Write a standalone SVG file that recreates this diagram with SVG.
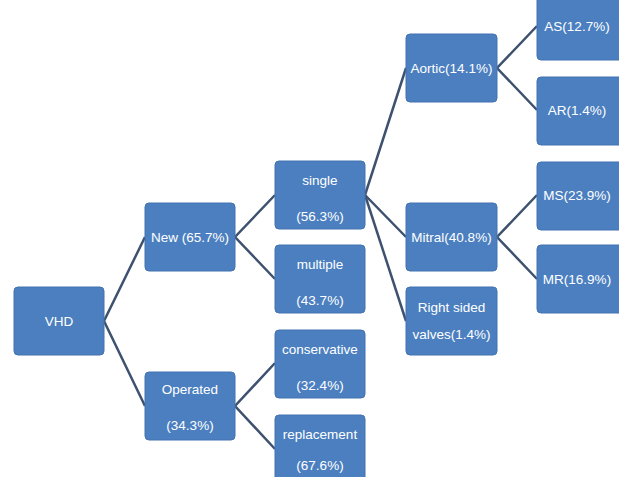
<svg xmlns="http://www.w3.org/2000/svg" width="619" height="477" viewBox="0 0 619 477">
<style>
.box{fill:#4c7fc0;stroke:#4273b0;stroke-width:1}
.t{font-family:"Liberation Sans","Open Sans",sans-serif;font-size:13.5px;fill:#ffffff;text-anchor:middle}
.c{stroke:#3e5270;stroke-width:2.5;fill:none}
</style>
<rect width="619" height="477" fill="#ffffff"/>
<g id="connectors">
<polyline class="c" points="145,237 104,321 145,406"/>
<polyline class="c" points="275,195 235,237 275,279"/>
<polyline class="c" points="275,363 235,406 275,449"/>
<polyline class="c" points="406,68 365,195 406,237"/>
<line class="c" x1="365" y1="195" x2="406" y2="321"/>
<polyline class="c" points="537,26 497,68 537,110"/>
<polyline class="c" points="537,195 497,237 537,279"/>
</g>
<g id="vhd"><rect class="box" x="14" y="287" width="90" height="68" rx="4"/><text class="t" x="59" y="326">VHD</text></g>
<g id="new"><rect class="box" x="145" y="203" width="90" height="68" rx="4"/><text class="t" x="190" y="242">New (65.7%)</text></g>
<g id="operated"><rect class="box" x="145" y="372" width="90" height="68" rx="4"/><text class="t" x="190" y="394">Operated</text><text class="t" x="190" y="430">(34.3%)</text></g>
<g id="single"><rect class="box" x="275" y="161" width="90" height="68" rx="4"/><text class="t" x="320" y="185">single</text><text class="t" x="320" y="221">(56.3%)</text></g>
<g id="multiple"><rect class="box" x="275" y="245" width="90" height="68" rx="4"/><text class="t" x="320" y="269">multiple</text><text class="t" x="320" y="305">(43.7%)</text></g>
<g id="conservative"><rect class="box" x="275" y="330" width="90" height="68" rx="4"/><text class="t" x="320" y="354">conservative</text><text class="t" x="320" y="390">(32.4%)</text></g>
<g id="replacement"><rect class="box" x="275" y="415" width="90" height="68" rx="4"/><text class="t" x="320" y="439">replacement</text><text class="t" x="320" y="470">(67.6%)</text></g>
<g id="aortic"><rect class="box" x="406" y="34" width="91" height="68" rx="4"/><text class="t" x="451.5" y="73">Aortic(14.1%)</text></g>
<g id="mitral"><rect class="box" x="406" y="203" width="91" height="68" rx="4"/><text class="t" x="451.5" y="242">Mitral(40.8%)</text></g>
<g id="rightsided"><rect class="box" x="406" y="287" width="91" height="68" rx="4"/><text class="t" x="451.5" y="312">Right sided</text><text class="t" x="451.5" y="339">valves(1.4%)</text></g>
<g id="as"><rect class="box" x="537" y="-8" width="90" height="68" rx="4"/><text class="t" x="577" y="31">AS(12.7%)</text></g>
<g id="ar"><rect class="box" x="537" y="77" width="90" height="68" rx="4"/><text class="t" x="577" y="115">AR(1.4%)</text></g>
<g id="ms"><rect class="box" x="537" y="162" width="90" height="68" rx="4"/><text class="t" x="577" y="200">MS(23.9%)</text></g>
<g id="mr"><rect class="box" x="537" y="245" width="90" height="68" rx="4"/><text class="t" x="577" y="284">MR(16.9%)</text></g>
</svg>
